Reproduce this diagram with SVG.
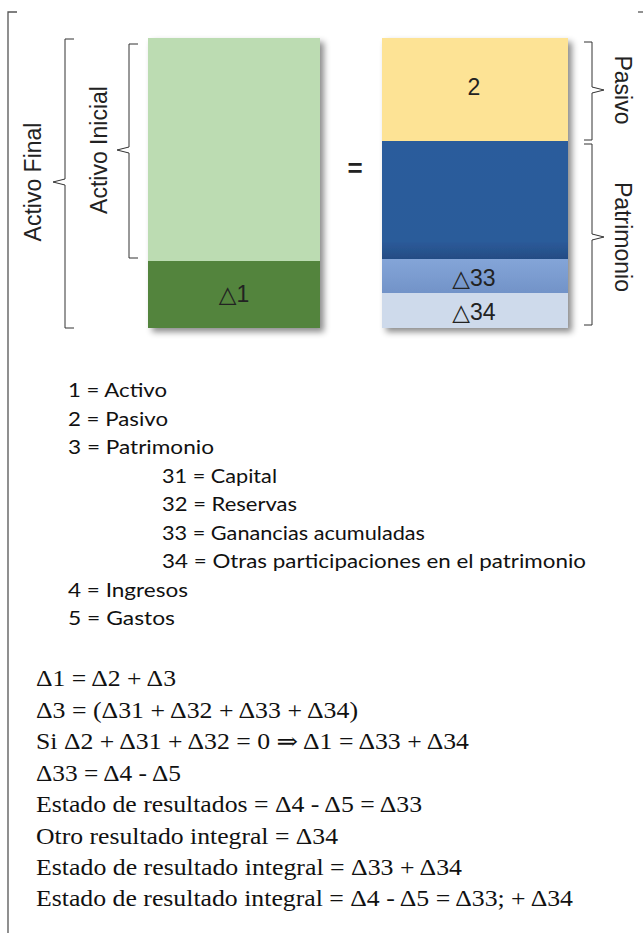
<svg xmlns="http://www.w3.org/2000/svg" width="643" height="933" viewBox="0 0 643 933">
<style>
.frame{fill:none;stroke:#555;stroke-width:1.3}
.br{fill:none;stroke:#333;stroke-width:1}
.lbl{font-family:"Liberation Sans",Arial,sans-serif;font-size:23px;fill:#222}
.box{font-family:"Liberation Sans","DejaVu Sans",Arial,sans-serif;font-size:23px;fill:#222;text-anchor:middle}
.leg{font-family:Lato,"Open Sans",sans-serif;font-size:18.5px;fill:#111}
.frm{font-family:"Liberation Serif","DejaVu Serif",serif;font-size:23px;fill:#111}
</style>
<defs>
<filter id="sh" x="-10%" y="-10%" width="130%" height="130%">
<feDropShadow dx="4" dy="4" stdDeviation="3" flood-color="#000" flood-opacity="0.45"/>
</filter>
<linearGradient id="gBlue" x1="0" y1="0" x2="0" y2="1">
<stop offset="0" stop-color="#2C5C9C"/><stop offset="0.85" stop-color="#2C5B9A"/><stop offset="1" stop-color="#244C84"/>
</linearGradient>
<linearGradient id="gMid" x1="0" y1="0" x2="0" y2="1">
<stop offset="0" stop-color="#84A5D8"/><stop offset="1" stop-color="#7293C8"/>
</linearGradient>
</defs>

<g id="frame">
<path class="frame" d="M17,12 H8 V933"/>
<path class="frame" d="M638,12 H643"/>
</g>

<g id="activo">
<g filter="url(#sh)">
<rect x="148" y="38" width="172" height="223" fill="#BCDCB2"/>
<rect x="148" y="261" width="172" height="67" fill="#53843E"/>
</g>
<text class="box" x="234" y="302">△1</text>
</g>

<g id="igual">
<text x="355" y="177" font-family="Liberation Sans,Arial,sans-serif" font-size="26" font-weight="bold" text-anchor="middle" fill="#222">=</text>
</g>

<g id="pasivo-patrimonio">
<g filter="url(#sh)">
<rect x="382" y="38" width="186" height="103" fill="#FDE395"/>
<rect x="382" y="141" width="186" height="118" fill="url(#gBlue)"/>
<rect x="382" y="259" width="186" height="34" fill="url(#gMid)"/>
<rect x="382" y="293" width="186" height="35" fill="#CEDAEB"/>
</g>
<text class="box" x="474" y="95">2</text>
<text class="box" x="474" y="286">△33</text>
<text class="box" x="474" y="320">△34</text>
</g>

<g id="brackets">
<path class="br" d="M74,39 H65 V179 L53,182 L65,185 V328 H74"/>
<path class="br" d="M138,44 H129 V147 L117,150 L129,153 V258 H138"/>
<path class="br" d="M584,42 H592 V87 L604,90 L592,93 V140 H584"/>
<path class="br" d="M584,144 H592 V234 L604,237 L592,240 V325 H584"/>
</g>

<g id="labels">
<text class="lbl" transform="translate(41,182) rotate(-90)" text-anchor="middle">Activo Final</text>
<text class="lbl" transform="translate(107,150) rotate(-90)" text-anchor="middle">Activo Inicial</text>
<text class="lbl" transform="translate(615,90) rotate(90)" text-anchor="middle">Pasivo</text>
<text class="lbl" transform="translate(615,237) rotate(90)" text-anchor="middle">Patrimonio</text>
</g>

<g id="leyenda">
<text class="leg" x="68" y="397" textLength="99" lengthAdjust="spacingAndGlyphs">1 = Activo</text>
<text class="leg" x="68" y="425.5" textLength="100" lengthAdjust="spacingAndGlyphs">2 = Pasivo</text>
<text class="leg" x="68" y="454" textLength="146" lengthAdjust="spacingAndGlyphs">3 = Patrimonio</text>
<text class="leg" x="162" y="482.5" textLength="115" lengthAdjust="spacingAndGlyphs">31 = Capital</text>
<text class="leg" x="162" y="511" textLength="135" lengthAdjust="spacingAndGlyphs">32 = Reservas</text>
<text class="leg" x="162" y="539.5" textLength="263" lengthAdjust="spacingAndGlyphs">33 = Ganancias acumuladas</text>
<text class="leg" x="162" y="568" textLength="424" lengthAdjust="spacingAndGlyphs">34 = Otras participaciones en el patrimonio</text>
<text class="leg" x="68" y="596.5" textLength="120" lengthAdjust="spacingAndGlyphs">4 = Ingresos</text>
<text class="leg" x="68" y="625" textLength="107" lengthAdjust="spacingAndGlyphs">5 = Gastos</text>
</g>

<g id="formulas">
<text class="frm" x="36" y="686" textLength="140" lengthAdjust="spacingAndGlyphs">Δ1 = Δ2 + Δ3</text>
<text class="frm" x="36" y="717.5" textLength="322" lengthAdjust="spacingAndGlyphs">Δ3 = (Δ31 + Δ32 + Δ33 + Δ34)</text>
<text class="frm" x="36" y="749" textLength="433" lengthAdjust="spacingAndGlyphs">Si Δ2 + Δ31 + Δ32 = 0 ⇒ Δ1 = Δ33 + Δ34</text>
<text class="frm" x="36" y="780.5" textLength="145" lengthAdjust="spacingAndGlyphs">Δ33 = Δ4 - Δ5</text>
<text class="frm" x="36" y="812" textLength="386" lengthAdjust="spacingAndGlyphs">Estado de resultados = Δ4 - Δ5 = Δ33</text>
<text class="frm" x="36" y="843.5" textLength="302" lengthAdjust="spacingAndGlyphs">Otro resultado integral = Δ34</text>
<text class="frm" x="36" y="875" textLength="426" lengthAdjust="spacingAndGlyphs">Estado de resultado integral = Δ33 + Δ34</text>
<text class="frm" x="36" y="906" textLength="537" lengthAdjust="spacingAndGlyphs">Estado de resultado integral = Δ4 - Δ5 = Δ33; + Δ34</text>
</g>
</svg>
